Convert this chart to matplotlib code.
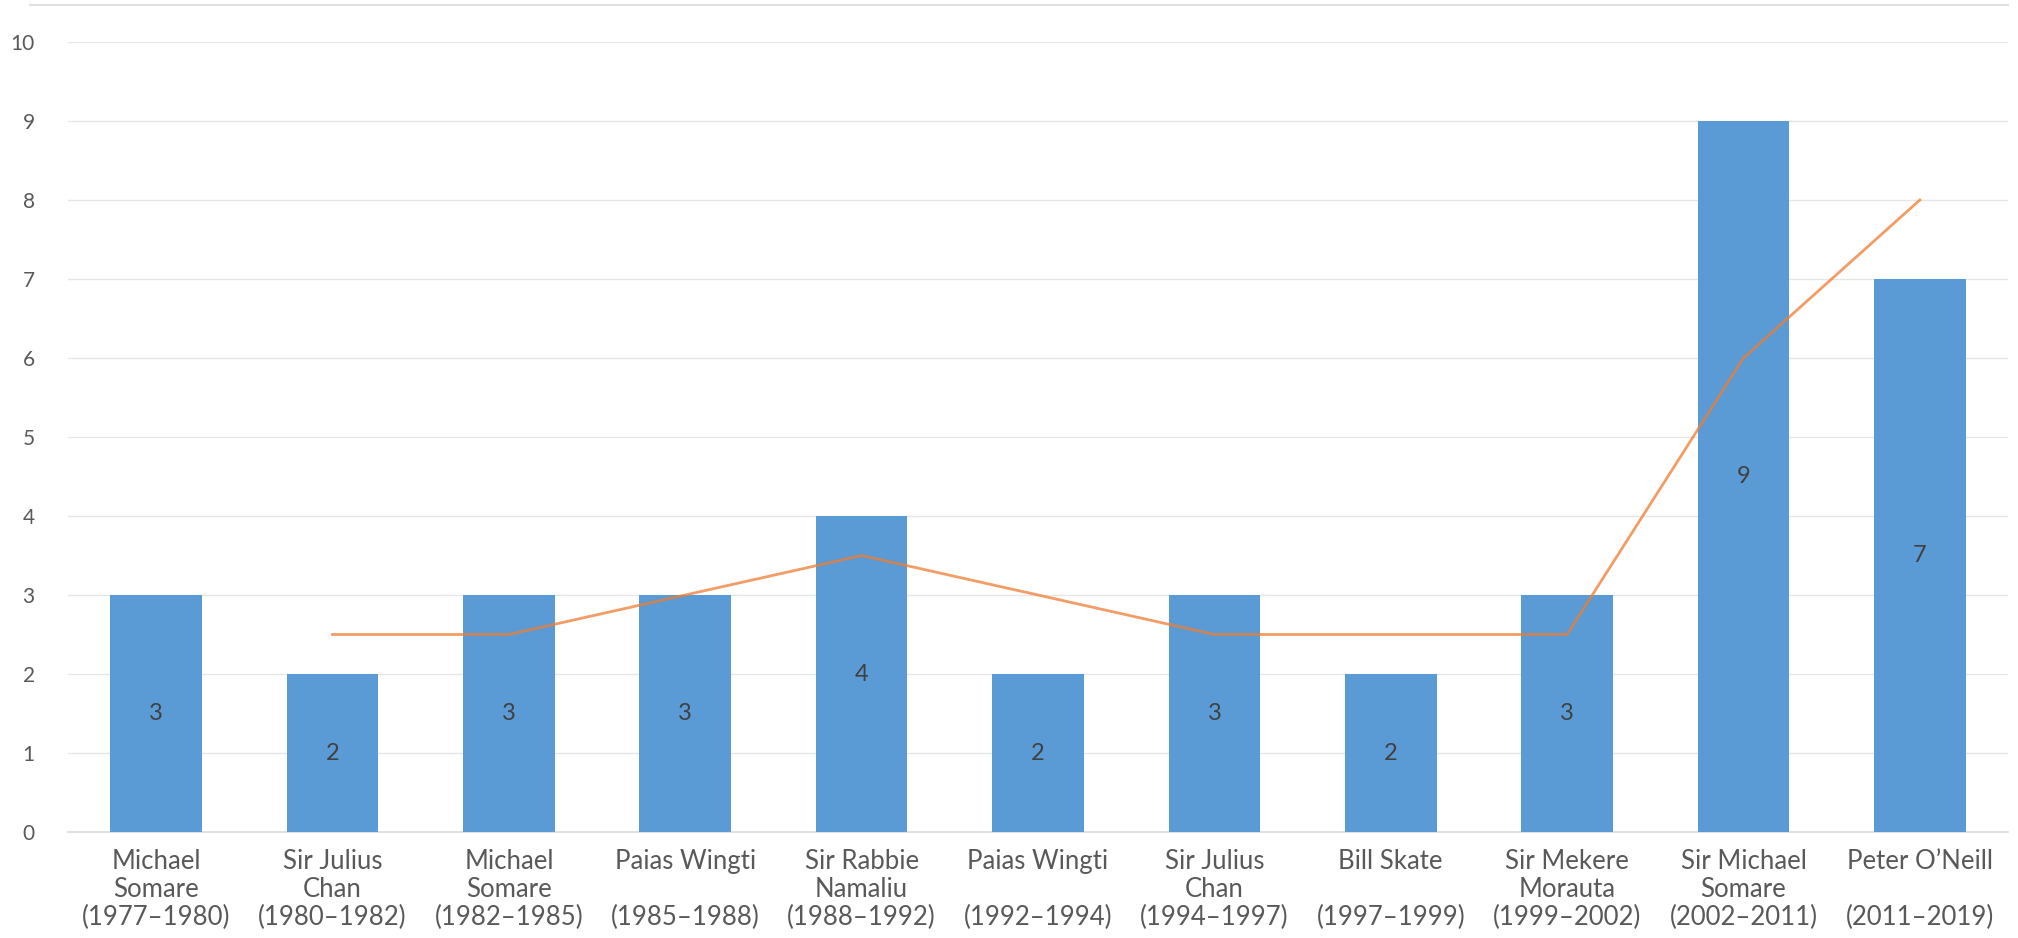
import matplotlib
matplotlib.use("Agg")
import matplotlib.pyplot as plt
import numpy as np
from matplotlib.lines import Line2D

labels = [
    "Michael\nSomare\n(1977–1980)",
    "Sir Julius\nChan\n(1980–1982)",
    "Michael\nSomare\n(1982–1985)",
    "Paias Wingti\n\n(1985–1988)",
    "Sir Rabbie\nNamaliu\n(1988–1992)",
    "Paias Wingti\n\n(1992–1994)",
    "Sir Julius\nChan\n(1994–1997)",
    "Bill Skate\n\n(1997–1999)",
    "Sir Mekere\nMorauta\n(1999–2002)",
    "Sir Michael\nSomare\n(2002–2011)",
    "Peter O’Neill\n\n(2011–2019)",
]
values = [3, 2, 3, 3, 4, 2, 3, 2, 3, 9, 7]
# 2-period moving average (starts at 2nd category)
trend_idx = [1, 2, 3, 4, 5, 6, 7, 8, 9, 10]
trend_vals = [2.5, 2.5, 3, 3.5, 3, 2.5, 2.5, 2.5, 6, 8]

plt.rcParams["font.family"] = ["Lato", "DejaVu Sans"]

fig = plt.figure(figsize=(20.18, 9.38), dpi=100)
ax = fig.add_axes([68 / 2018, 1 - 832 / 938, (2008 - 68) / 2018, 790 / 938])

x = np.arange(len(values))
ax.bar(x, values, width=0.52, color="#5B9BD5", zorder=2)
ax.plot(trend_idx, trend_vals, color="#ED7D31", lw=2, alpha=0.75, zorder=3)

for xi, v in zip(x, values):
    ax.text(xi, v / 2, str(v), ha="center", va="center", fontsize=17,
            color="#404040", zorder=4)

ax.set_xlim(-0.5, len(values) - 0.5)
ax.set_ylim(0, 10)
ax.set_yticks(range(0, 11))
ax.set_xticks(x)
ax.set_xticklabels(labels, fontsize=18.5, color="#595959", linespacing=1.15)
ax.tick_params(axis="y", labelsize=15, labelcolor="#595959", length=0, pad=24)
ax.tick_params(axis="x", length=0, pad=12)
ax.grid(axis="y", color="#E6E6E6", lw=1, zorder=0)
for s in ["top", "right", "left"]:
    ax.spines[s].set_visible(False)
ax.spines["bottom"].set_color("#D9D9D9")
ax.spines["bottom"].set_linewidth(1.2)
ax.spines["bottom"].set_zorder(1)

# light chart frame at the top edge
fig.add_artist(Line2D([0.015, 0.995], [1 - 5 / 938, 1 - 5 / 938],
                      color="#E0E0E0", lw=1.5, transform=fig.transFigure))

fig.savefig("out.png", dpi=100)
